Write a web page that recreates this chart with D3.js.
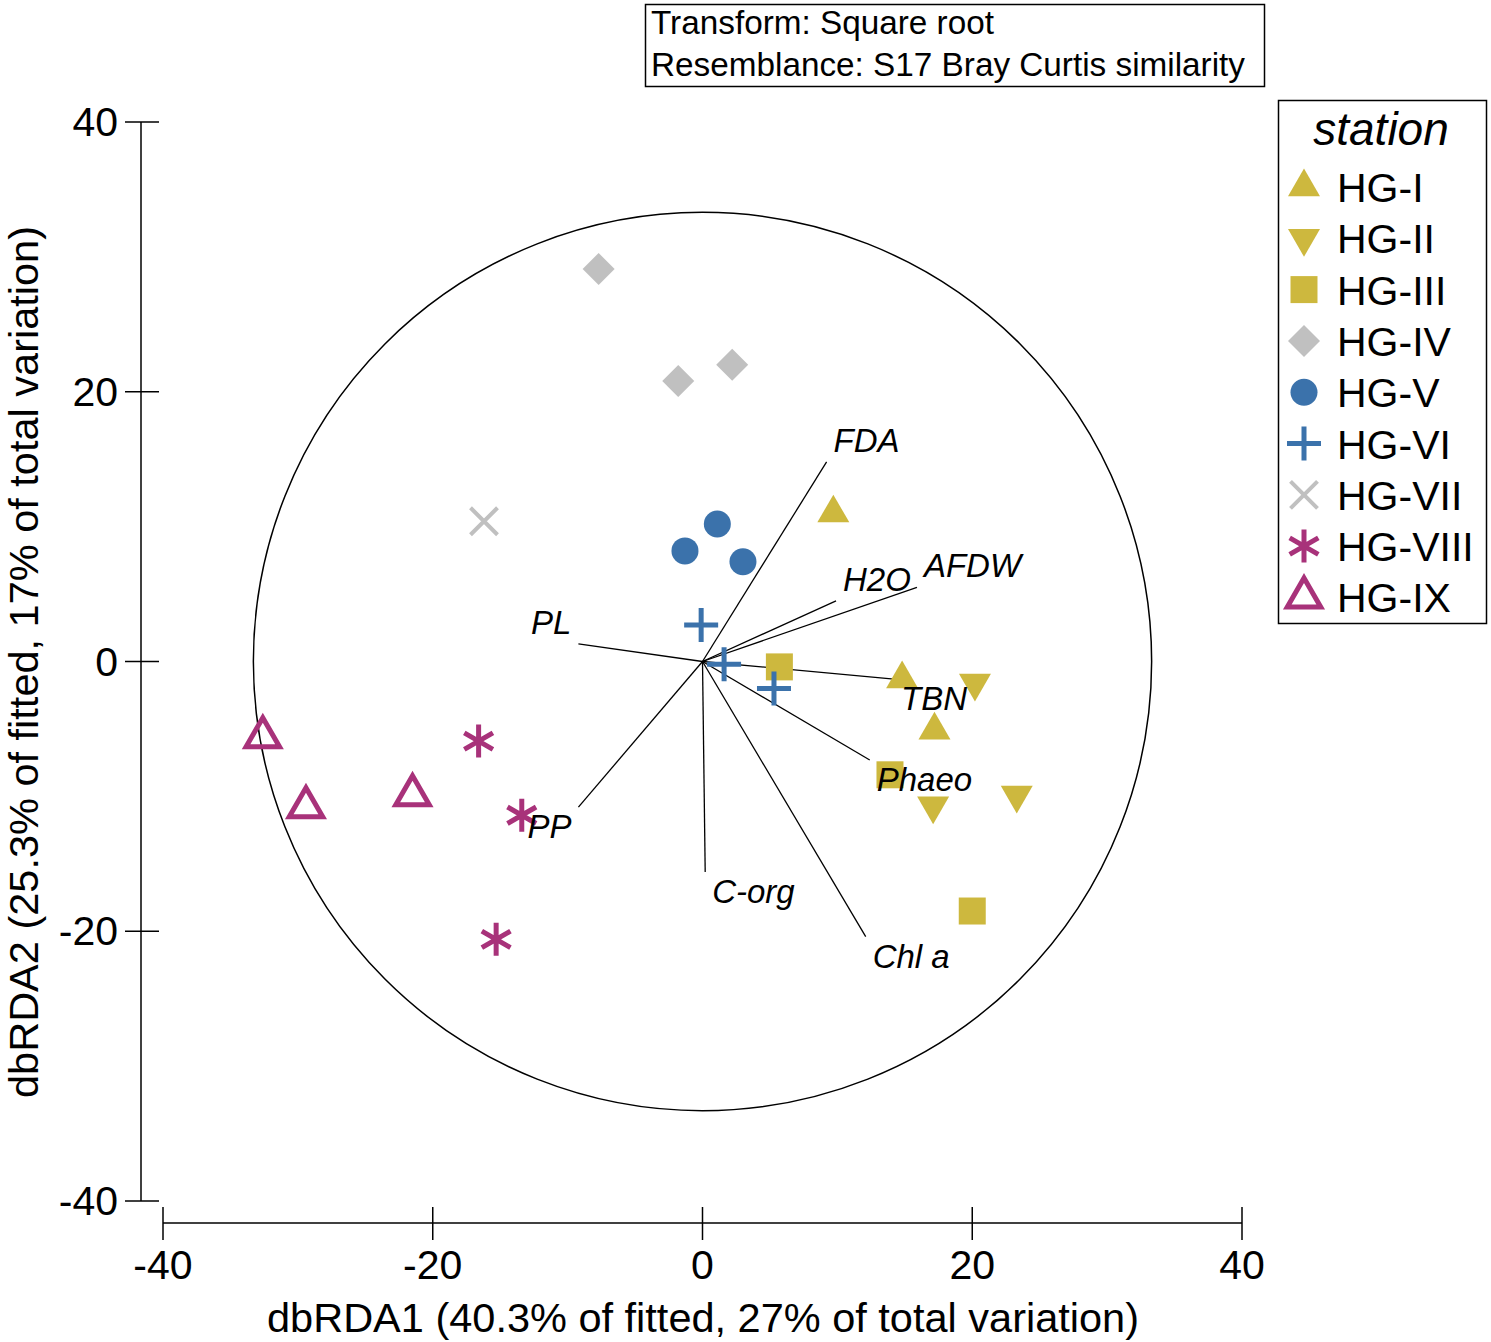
<!DOCTYPE html>
<html>
<head>
<meta charset="utf-8">
<script src="https://cdn.jsdelivr.net/npm/d3@7"></script>
<style>
  body { margin: 0; background: #fff; }
  text { font-family: "Liberation Sans", Arial, sans-serif; fill: #000; }
</style>
</head>
<body>
<div id="chart"></div>
<script>
// stations and their sample scores (dbRDA1, dbRDA2)
const stations = ["HG-I", "HG-II", "HG-III", "HG-IV", "HG-V", "HG-VI", "HG-VII", "HG-VIII", "HG-IX"];
const hg1 = [[9.7, 11.0], [14.8, -1.3], [17.2, -5.1]];
const hg2 = [[20.2, -1.6], [17.1, -10.7], [23.3, -9.9]];
const hg3 = [[5.7, -0.4], [13.9, -8.4], [20.0, -18.5]];
const hg4 = [[-7.7, 29.1], [-1.8, 20.8], [2.2, 22.0]];
const hg5 = [[-1.3, 8.2], [1.1, 10.2], [3.0, 7.4]];
const hg6 = [[-0.1, 2.7], [1.6, -0.2], [5.3, -2.0]];
const hg7 = [[-16.2, 10.4]];
const hg8 = [[-16.6, -5.9], [-13.4, -11.4], [-15.3, -20.6]];
const hg9 = [[-32.6, -5.6], [-29.4, -10.8], [-21.5, -9.9]];

// environmental vectors
const vecNames = ["FDA", "H2O", "AFDW", "PL", "TBN", "Phaeo", "C-org", "Chl a", "PP"];
const vecX = [9.2, 9.9, 15.9, -9.2, 14.2, 12.4, 0.2, 12.1, -9.2];
const vecY = [14.8, 4.5, 5.5, 1.3, -1.3, -7.3, -15.6, -20.4, -10.8];
const circleRadius = 33.3;

const xTicks = [-40, -20, 0, 20, 40];
const yTicks = [-40, -20, 0, 20, 40];

const gold = "#cdb83e", blue = "#3b72ab", grey = "#c0c0c0", mag = "#a8327a";
const styles = [
  {data: hg1, type: d3.symbolTriangle, size: 443, fill: gold},
  {data: hg2, type: d3.symbolTriangle, size: 443, fill: gold, rot: 180},
  {data: hg3, type: d3.symbolSquare, size: 729, fill: gold},
  {data: hg4, type: d3.symbolSquare, size: 512, fill: grey, rot: 45},
  {data: hg5, type: d3.symbolCircle, size: 573, fill: blue},
  {data: hg6, type: d3.symbolPlus, size: 379, stroke: blue, sw: 5},
  {data: hg7, type: d3.symbolTimes, size: 477, stroke: grey, sw: 4},
  {data: hg8, type: d3.symbolAsterisk, size: 772, stroke: mag, sw: 5},
  {data: hg9, type: d3.symbolTriangle2, size: 800, stroke: mag, sw: 5}
];

const W = 1491, H = 1342;
const svg = d3.select("#chart").append("svg").attr("width", W).attr("height", H);

const x = d3.scaleLinear().domain([-40, 40]).range([163, 1242]);
const y = d3.scaleLinear().domain([-40, 40]).range([1201, 122]);

// axes (crossing tick style)
const xAxisY = 1223, yAxisX = 141;
svg.append("line").attr("x1", x(-40)).attr("x2", x(40)).attr("y1", xAxisY).attr("y2", xAxisY)
  .attr("stroke", "#000").attr("stroke-width", 1.5);
svg.selectAll(".xt").data(xTicks).enter().append("line")
  .attr("x1", d => x(d)).attr("x2", d => x(d)).attr("y1", xAxisY - 16).attr("y2", xAxisY + 17)
  .attr("stroke", "#000").attr("stroke-width", 1.5);
svg.selectAll(".xl").data(xTicks).enter().append("text")
  .attr("x", d => x(d)).attr("y", 1279).attr("text-anchor", "middle")
  .style("font-size", "41px").text(d => d);

svg.append("line").attr("x1", yAxisX).attr("x2", yAxisX).attr("y1", y(40)).attr("y2", y(-40))
  .attr("stroke", "#000").attr("stroke-width", 1.5);
svg.selectAll(".yt").data(yTicks).enter().append("line")
  .attr("x1", yAxisX - 16).attr("x2", yAxisX + 18).attr("y1", d => y(d)).attr("y2", d => y(d))
  .attr("stroke", "#000").attr("stroke-width", 1.5);
svg.selectAll(".yl").data(yTicks).enter().append("text")
  .attr("x", 118).attr("y", d => y(d) + 14).attr("text-anchor", "end")
  .style("font-size", "41px").text(d => d);

svg.append("text").attr("x", 703).attr("y", 1332).attr("text-anchor", "middle")
  .style("font-size", "41.5px").text("dbRDA1 (40.3% of fitted, 27% of total variation)");
svg.append("text").attr("transform", `translate(38,662) rotate(-90)`).attr("text-anchor", "middle")
  .style("font-size", "41.5px").text("dbRDA2 (25.3% of fitted, 17% of total variation)");

// correlation circle
svg.append("circle").attr("cx", x(0)).attr("cy", y(0))
  .attr("r", x(circleRadius) - x(0))
  .attr("fill", "none").attr("stroke", "#000").attr("stroke-width", 1.5);

// vectors
const vecs = vecNames.map((n, i) => ({name: n, vx: vecX[i], vy: vecY[i]}));
svg.selectAll(".vec").data(vecs).enter().append("line")
  .attr("x1", x(0)).attr("y1", y(0)).attr("x2", d => x(d.vx)).attr("y2", d => y(d.vy))
  .attr("stroke", "#000").attr("stroke-width", 1.3);

// points
styles.forEach((s, i) => {
  const sym = d3.symbol().type(s.type).size(s.size);
  svg.selectAll(".p" + i).data(s.data).enter().append("path")
    .attr("d", sym)
    .attr("transform", d => `translate(${x(d[0])},${y(d[1])}) rotate(${s.rot || 0})`)
    .attr("fill", s.fill || "none")
    .attr("stroke", s.stroke || "none")
    .attr("stroke-width", s.sw || 0);
});

// vector labels
svg.selectAll(".vl").data(vecs).enter().append("text")
  .attr("x", d => x(d.vx) + (d.vx >= 0 ? 7 : -7))
  .attr("y", d => y(d.vy) + (d.vy >= 0 ? -10 : 31))
  .attr("text-anchor", d => d.vx >= 0 ? "start" : "end")
  .style("font-size", "33px").style("font-style", "italic")
  .text(d => d.name);

// top info box
svg.append("rect").attr("x", 645.5).attr("y", 4.5).attr("width", 619).attr("height", 82)
  .attr("fill", "none").attr("stroke", "#000").attr("stroke-width", 1.5);
svg.append("text").attr("x", 651).attr("y", 34).style("font-size", "33.3px").text("Transform: Square root");
svg.append("text").attr("x", 651).attr("y", 76).style("font-size", "33.3px").text("Resemblance: S17 Bray Curtis similarity");

// legend
const lg = svg.append("g");
lg.append("rect").attr("x", 1278.5).attr("y", 100.5).attr("width", 208).attr("height", 523)
  .attr("fill", "none").attr("stroke", "#000").attr("stroke-width", 1.5);
lg.append("text").attr("x", 1381).attr("y", 145).attr("text-anchor", "middle")
  .style("font-size", "46px").style("font-style", "italic").text("station");
stations.forEach((name, i) => {
  const s = styles[i];
  const cy = 187 + i * 51.3;
  lg.append("path")
    .attr("d", d3.symbol().type(s.type).size(s.size)())
    .attr("transform", `translate(1304,${cy}) rotate(${s.rot || 0})`)
    .attr("fill", s.fill || "none")
    .attr("stroke", s.stroke || "none")
    .attr("stroke-width", s.sw || 0);
  lg.append("text").attr("x", 1337).attr("y", cy + 15)
    .style("font-size", "41px").text(name);
});
</script>
</body>
</html>
